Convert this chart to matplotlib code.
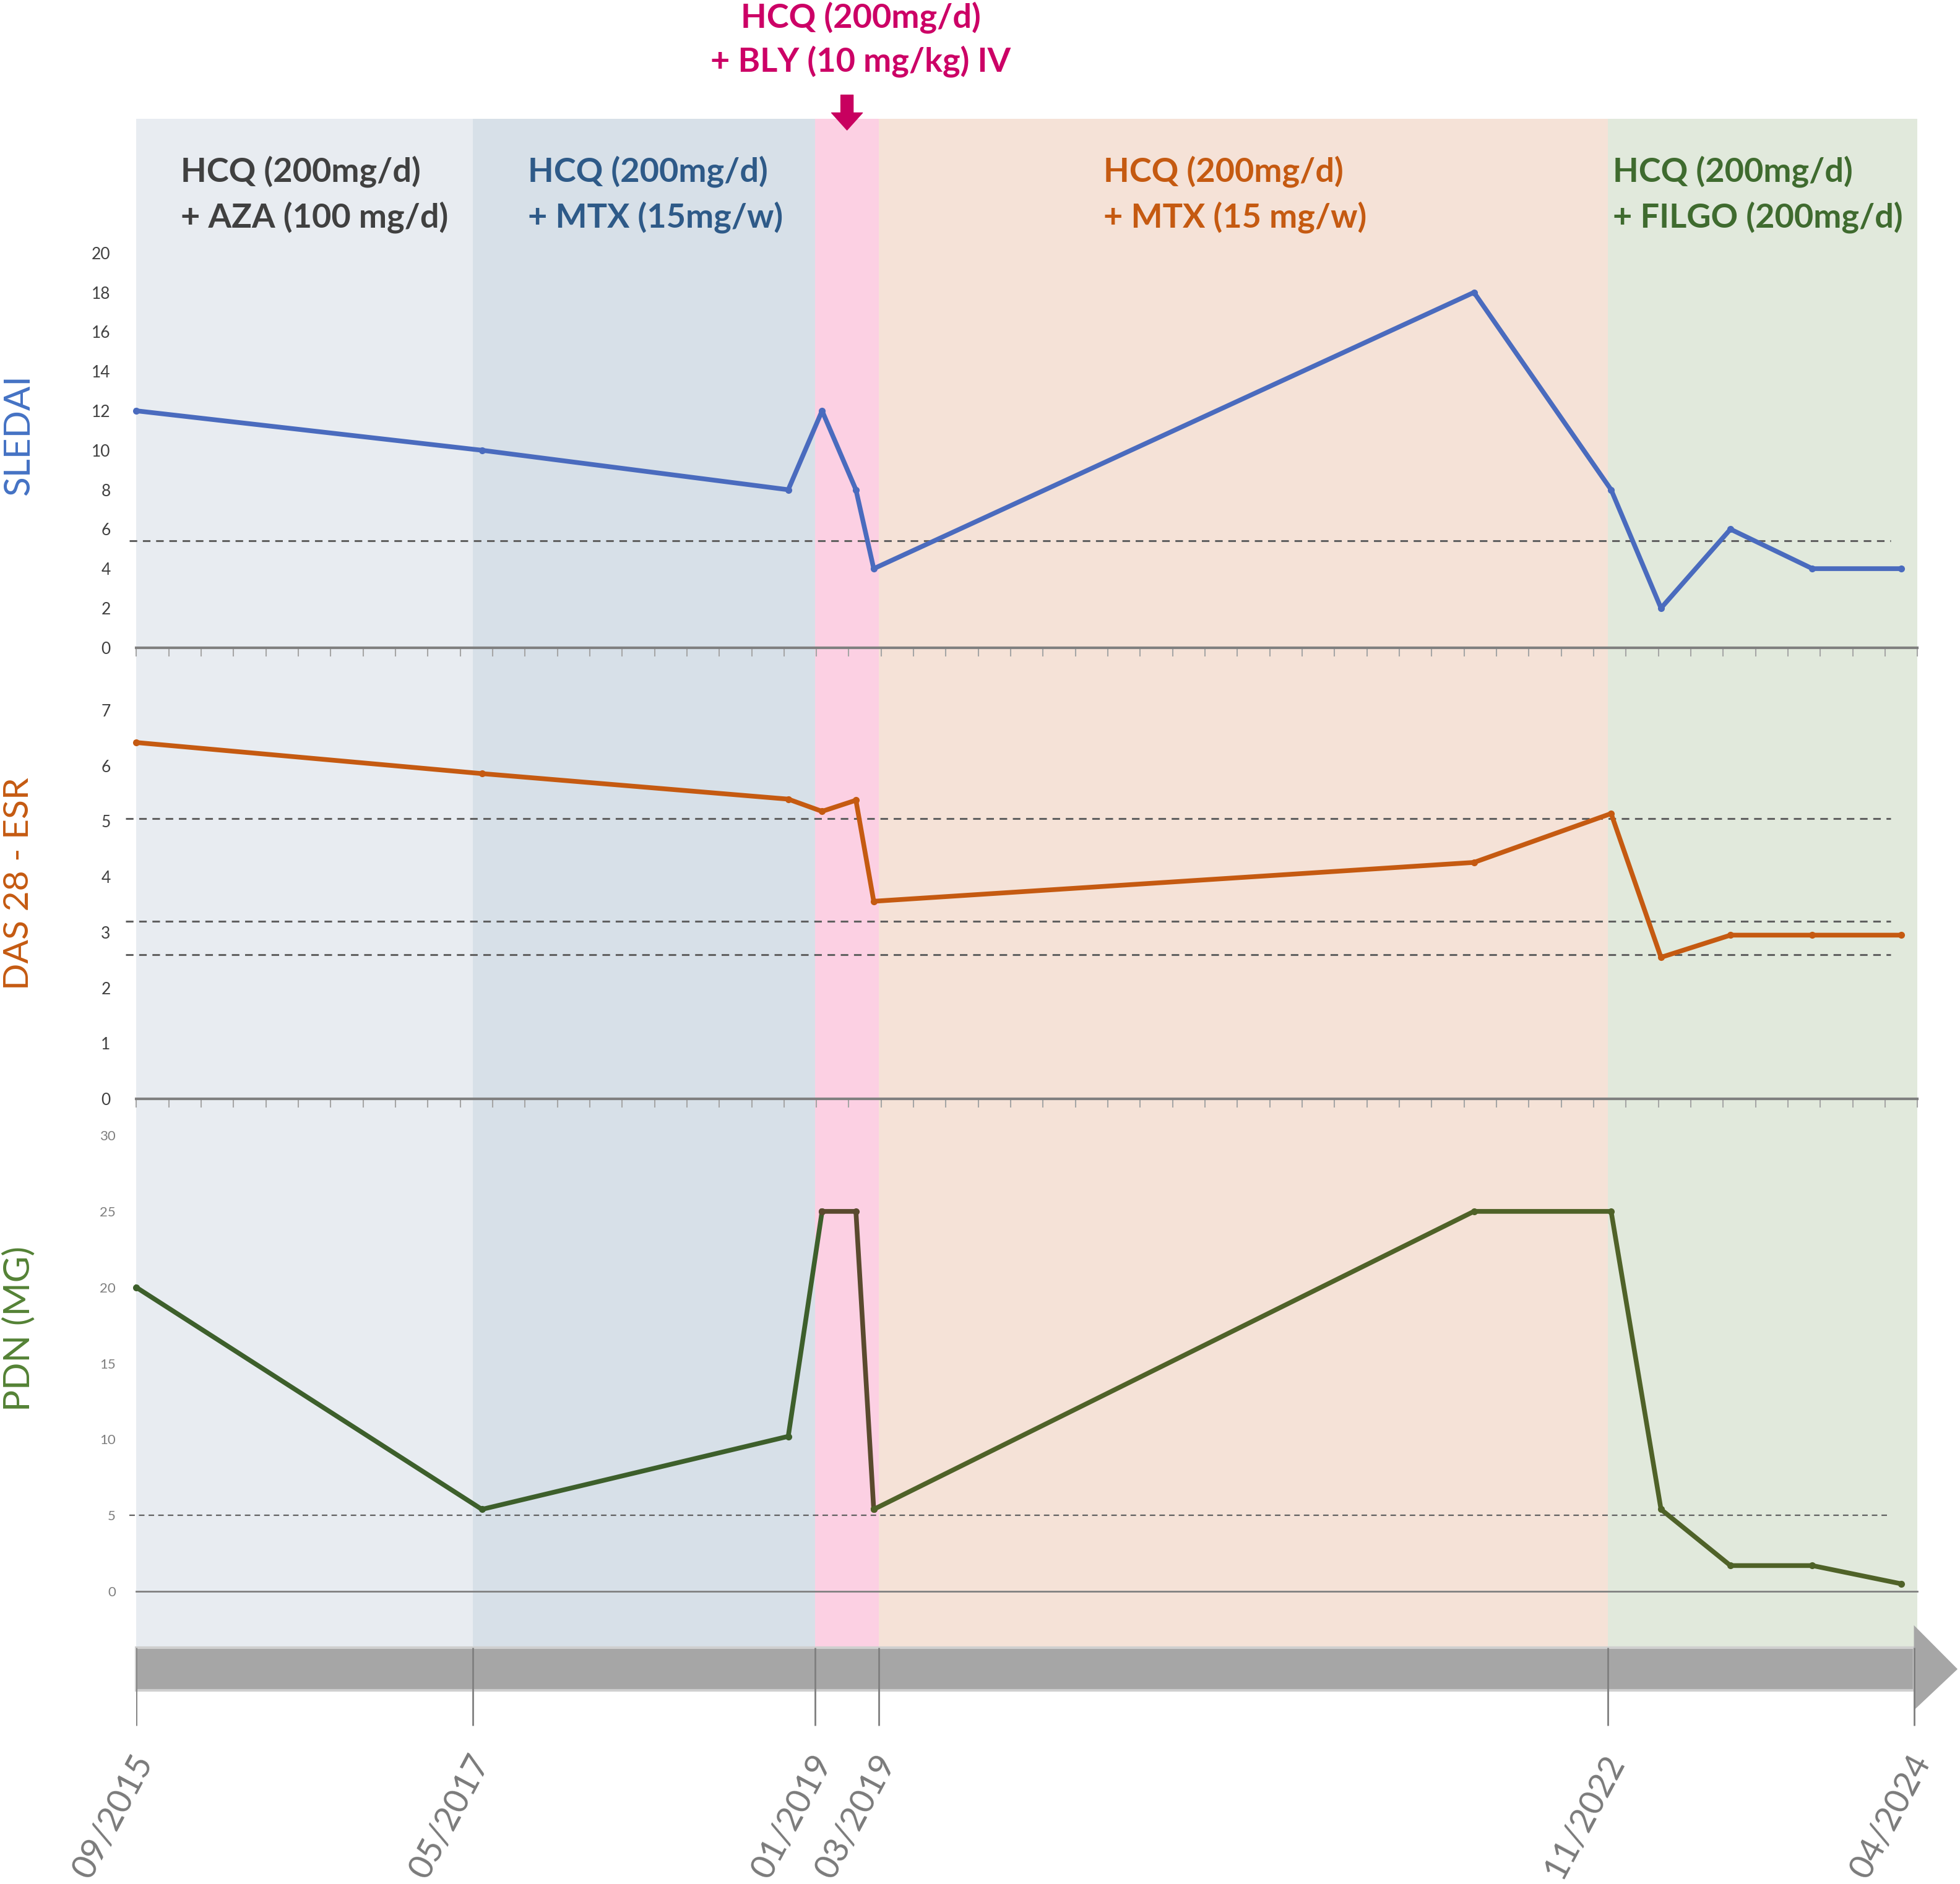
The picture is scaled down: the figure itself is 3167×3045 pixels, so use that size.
import numpy as np
import matplotlib
matplotlib.use("Agg")
import matplotlib.pyplot as plt
from matplotlib.patches import Polygon, Rectangle

plt.rcParams['font.family'] = ['Lato', 'DejaVu Sans']

# timeline ticks (chart scale 0-100, not linear in time)
date_labels = ["09/2015", "05/2017", "01/2019", "03/2019", "11/2022", "04/2024"]
date_pos = [0, 18.9, 38.1, 41.7, 82.6, 99.8]

# visits
visit_x = [0, 19.4, 36.6, 38.5, 40.4, 41.4, 75.1, 82.8, 85.6, 89.5, 94.1, 99.1]
sledai = [12, 10, 8, 12, 8, 4, 18, 8, 2, 6, 4, 4]
das28 = [6.42, 5.86, 5.4, 5.18, 5.38, 3.56, 4.26, 5.14, 2.55, 2.95, 2.95, 2.95]
pdn = [20, 5.4, 10.2, 25, 25, 5.4, 25, 25, 5.4, 1.7, 1.7, 0.5]

sledai_cuts = [5.4]
das_cuts = [5.05, 3.2, 2.6]
pdn_cuts = [5]

treatments = [
    ["HCQ (200mg/d)", "+ AZA (100 mg/d)"],
    ["HCQ (200mg/d)", "+ MTX (15mg/w)"],
    None,
    ["HCQ (200mg/d)", "+ MTX (15 mg/w)"],
    ["HCQ (200mg/d)", "+ FILGO (200mg/d)"],
]
bly_text = ["HCQ (200mg/d)", "+ BLY (10 mg/kg) IV"]

band_colors = ['#E8ECF1', '#D7E0E8', '#FCD0E3', '#F5E2D7', '#E1E9DC']
text_colors = ['#404040', '#2E5A88', None, '#C55A11', '#3F6B2F']
label_x = [2.5, 22.0, None, 54.3, 82.9]


def fx(px):
    return px / 1567


def fy(py):
    return 1 - py / 1507


fig = plt.figure(figsize=(31.67, 30.45), dpi=100)
left, right = fx(109), fx(1533)
y_top, y1, y2, y_bot = fy(95), fy(518), fy(879), fy(1317)

# background bands
bg = fig.add_axes([left, y_bot, right - left, y_top - y_bot])
bg.set_xlim(0, 100)
bg.set_ylim(0, 1)
bg.axis('off')
edges = date_pos[:5] + [100]
for i in range(5):
    bg.axvspan(edges[i], edges[i + 1], color=band_colors[i], lw=0)
    if treatments[i]:
        tr = bg.get_xaxis_transform()
        bg.text(label_x[i], 0.9656, treatments[i][0], transform=tr, ha='left', va='center',
                fontsize=39, fontweight='bold', color=text_colors[i])
        bg.text(label_x[i], 0.9354, treatments[i][1], transform=tr, ha='left', va='center',
                fontsize=39, fontweight='bold', color=text_colors[i])

# belimumab annotation
mid = (date_pos[2] + date_pos[3]) / 2
fig.text(fx(688), fy(14), bly_text[0], ha='center', va='center', fontsize=39,
         fontweight='bold', color='#CC0066')
fig.text(fx(688), fy(49), bly_text[1], ha='center', va='center', fontsize=39,
         fontweight='bold', color='#CC0066')
bg.annotate('', xy=(mid, fy(104)), xytext=(mid, fy(76)),
            xycoords=('data', 'figure fraction'), textcoords=('data', 'figure fraction'),
            arrowprops=dict(arrowstyle='simple,head_length=0.5,head_width=0.9,tail_width=0.36',
                            mutation_scale=40, color='#C8005F', shrinkA=0, shrinkB=0))


def setup(ax, ylim, yticks, labelsize, labelcolor, pad, minor=True, lw=3):
    ax.set_xlim(0, 100)
    ax.set_ylim(*ylim)
    ax.patch.set_alpha(0)
    for s in ['top', 'right', 'left']:
        ax.spines[s].set_visible(False)
    ax.spines['bottom'].set_position(('data', 0))
    ax.spines['bottom'].set_color('#808080')
    ax.spines['bottom'].set_linewidth(lw)
    ax.set_yticks(yticks)
    ax.tick_params(axis='y', length=0, pad=pad, labelsize=labelsize, labelcolor=labelcolor)
    if minor:
        ax.set_xticks(np.linspace(0, 100, 56))
        ax.tick_params(axis='x', length=10, width=1.5, color='#A6A6A6', direction='out',
                       labelbottom=False)
    else:
        ax.set_xticks([])


ax1 = fig.add_axes([left, y1, right - left, y_top - y1])
setup(ax1, (0, 26.8), range(0, 21, 2), 19, '#404040', 30)
ax2 = fig.add_axes([left, y2, right - left, y1 - y2])
setup(ax2, (0, 8.13), range(0, 8), 19, '#404040', 30)
ax3 = fig.add_axes([left, y_bot, right - left, y2 - y_bot])
setup(ax3, (-3.62, 32.4), range(0, 31, 5), 16, '#7F7F7F', 24, minor=False, lw=2)

dash = (0, (4, 3))
ax1.hlines(sledai_cuts, -0.4, 98.5, colors='#606060', linestyles=dash, lw=2.2, clip_on=False)
ax2.hlines(das_cuts, -0.6, 98.5, colors='#606060', linestyles=dash, lw=2.2, clip_on=False)
ax3.hlines(pdn_cuts, -0.4, 98.5, colors='#606060', linestyles=dash, lw=1.6, clip_on=False)

ax1.plot(visit_x, sledai, color='#4A6BBE', lw=5.5, marker='o', ms=7, clip_on=False)
ax2.plot(visit_x, das28, color='#C55A11', lw=5.5, marker='o', ms=7, clip_on=False)
ax3.plot(visit_x[:4], pdn[:4], color='#3D5F2B', lw=5.5, marker='o', ms=7, clip_on=False)
ax3.plot(visit_x[3:6], pdn[3:6], color='#5A4A2E', lw=5.5, marker='o', ms=7, clip_on=False)
ax3.plot(visit_x[5:], pdn[5:], color='#4F6228', lw=5.5, marker='o', ms=7, clip_on=False)

fig.text(fx(15), fy(348), 'SLEDAI', rotation=90, ha='center', va='center',
         fontsize=42, color='#4472C4')
fig.text(fx(15), fy(707), 'DAS 28 - ESR', rotation=90, ha='center', va='center',
         fontsize=41, color='#C55A11')
fig.text(fx(15), fy(1063), 'PDN (MG)', rotation=90, ha='center', va='center',
         fontsize=42, color='#548235')

# timeline arrow
tax = fig.add_axes([left, fy(1400), right - left, fy(1290) - fy(1400)])
tax.set_xlim(0, 100)
tax.set_ylim(0, 1)
tax.axis('off')
tax.add_patch(Rectangle((0, 0.436), date_pos[-1], 0.309, facecolor='#A6A6A6',
                        edgecolor='#CFCFCF', lw=3, clip_on=False))
tax.add_patch(Polygon([(date_pos[-1], 0.291), (date_pos[-1], 0.909), (102.25, 0.59)],
                      closed=True, facecolor='#A6A6A6', edgecolor='none', clip_on=False))
tax.vlines(date_pos, 0.18, 0.745, colors='#7F7F7F', lw=2, zorder=3)
for p, lab in zip(date_pos, date_labels):
    tax.text(p + 0.5, -0.05, lab, rotation=62, rotation_mode='anchor', ha='right', va='center',
             fontsize=40, color='#7A7A7A')

fig.savefig('out.png', dpi=100)
